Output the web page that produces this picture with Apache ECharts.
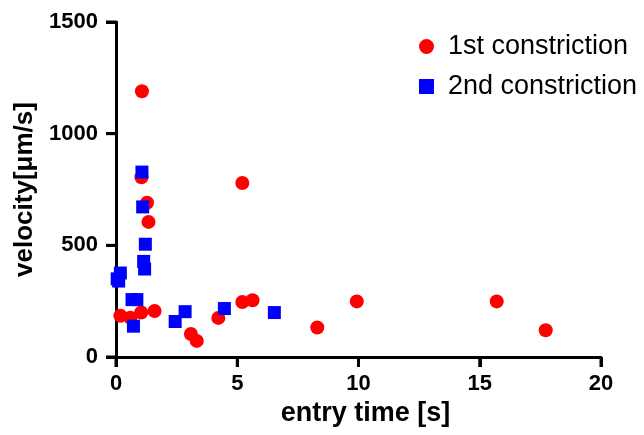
<!DOCTYPE html>
<html>
<head>
<meta charset="utf-8">
<script src="https://cdn.jsdelivr.net/npm/echarts@6/dist/echarts.min.js"></script>
<style>
  html, body { margin: 0; padding: 0; background: #fff; }
  #chart { width: 644px; height: 435px; }
</style>
</head>
<body>
<div id="chart"></div>
<script>
// 1st constriction: [entry time (s), velocity (um/s)]
var firstTime = [1.07, 1.05, 1.28, 1.34, 0.18, 0.59, 1.04, 1.59, 5.21, 3.09, 3.33, 4.22, 5.21, 5.63, 8.30, 9.93, 15.70, 17.72];
var firstVel  = [1190, 805, 691, 605, 185, 176, 199, 206, 779, 103, 72, 175, 246, 254, 132, 249, 249, 120];
// 2nd constriction
var secondTime = [1.07, 1.10, 1.21, 1.14, 1.18, 0.18, 0.11, 0.05, 0.66, 0.86, 0.72, 2.44, 2.85, 4.47, 6.53];
var secondVel  = [828, 672, 505, 428, 394, 376, 340, 350, 257, 257, 138, 159, 203, 217, 199];

var xTicks = [0, 5, 10, 15, 20];
var yTicks = [0, 500, 1000, 1500];
var seriesNames = ['1st constriction', '2nd constriction'];

function pairs(xs, ys) {
  var out = [];
  for (var i = 0; i < xs.length; i++) out.push([xs[i], ys[i]]);
  return out;
}

// outward tick marks drawn as short lines through the axis scales
function tickSeries(values, vertical) {
  return {
    type: 'custom',
    silent: true,
    clip: false,
    z: 10,
    coordinateSystem: 'cartesian2d',
    data: values.map(function (v) { return vertical ? [0, v] : [v, 0]; }),
    renderItem: function (params, api) {
      var p = api.coord([api.value(0), api.value(1)]);
      return {
        type: 'rect',
        shape: vertical
          ? { x: p[0] - 10, y: p[1] - 1.5, width: 10, height: 3 }
          : { x: p[0] - 1.5, y: p[1], width: 3, height: 10 },
        style: { fill: '#000' }
      };
    }
  };
}

var axisFont = 'Liberation Sans, Arial, sans-serif';

var chart = echarts.init(document.getElementById('chart'));
chart.setOption({
  animation: false,
  backgroundColor: '#fff',
  grid: { left: 116, right: 43, top: 22, bottom: 78, containLabel: false },
  legend: {
    orient: 'vertical',
    left: 414,
    top: 28,
    itemWidth: 15,
    itemHeight: 15,
    itemGap: 13,
    data: [
      { name: seriesNames[0], icon: 'circle' },
      { name: seriesNames[1], icon: 'rect' }
    ],
    textStyle: { fontFamily: axisFont, fontSize: 27, color: '#000', padding: [0, 0, 0, 9] }
  },
  xAxis: {
    type: 'value',
    min: xTicks[0],
    max: xTicks[xTicks.length - 1],
    interval: 5,
    name: 'entry time [s]',
    nameLocation: 'middle',
    nameGap: 40,
    nameTextStyle: { fontFamily: axisFont, fontSize: 27, fontWeight: 'bold', color: '#000', padding: [0, 0, 0, 14] },
    axisLine: { show: true, lineStyle: { color: '#000', width: 3 } },
    axisTick: { show: true, length: 10, lineStyle: { color: '#000', width: 3 } },
    axisLabel: { fontFamily: axisFont, fontSize: 22, fontWeight: 'bold', color: '#000', margin: 16,
      formatter: function (v) { return String(v); } },
    splitLine: { show: false }
  },
  yAxis: {
    type: 'value',
    min: yTicks[0],
    max: yTicks[yTicks.length - 1],
    interval: 500,
    name: 'velocity[\u03bcm/s]',
    nameLocation: 'middle',
    nameGap: 78,
    nameTextStyle: { fontFamily: axisFont, fontSize: 26, fontWeight: 'bold', color: '#000' },
    axisLine: { show: true, lineStyle: { color: '#000', width: 3 } },
    axisTick: { show: true, length: 10, lineStyle: { color: '#000', width: 3 } },
    axisLabel: { fontFamily: axisFont, fontSize: 22, fontWeight: 'bold', color: '#000', margin: 18,
      formatter: function (v) { return String(v); } },
    splitLine: { show: false }
  },
  series: [
    tickSeries(xTicks, false),
    tickSeries(yTicks, true),
    {
      name: seriesNames[0],
      type: 'scatter',
      symbol: 'circle',
      symbolSize: 14,
      itemStyle: { color: '#ff0000', opacity: 1 },
      data: pairs(firstTime, firstVel)
    },
    {
      name: seriesNames[1],
      type: 'scatter',
      symbol: 'rect',
      symbolSize: 13,
      itemStyle: { color: '#0000ff', opacity: 1 },
      data: pairs(secondTime, secondVel)
    }
  ]
});
</script>
</body>
</html>
